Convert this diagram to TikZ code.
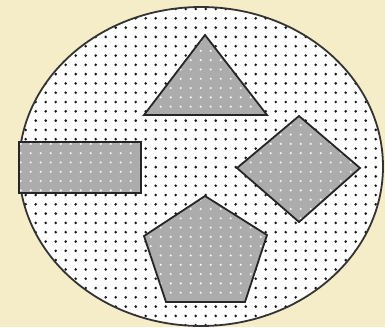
\documentclass[tikz,border=0pt]{standalone}
\definecolor{bgcream}{RGB}{245,237,200}
\definecolor{shapegray}{RGB}{172,172,172}
\definecolor{dotdark}{RGB}{25,25,25}
\tikzset{
  outline/.style={draw=black!85, line width=1.8pt, line join=miter},
  ringline/.style={draw=black!80, line width=1.8pt}
}
\newcommand\patshape[1]{%
  \fill[shapegray] #1;
  \begin{scope}
    \clip #1;
    \foreach \i in {0,...,38}{\foreach \j in {0,...,36}{%
      \fill[white, opacity=0.85] (10.7+10*\i, 4.35+9.3*\j) circle (1.2pt);}}
  \end{scope}
  \draw[outline] #1;}
\begin{document}
\begin{tikzpicture}[x=1pt,y=-1pt]
\fill[bgcream] (0,0) rectangle (385,327);
\useasboundingbox (0,0) rectangle (385,327);
\coordinate (c) at (201,166.5);
\fill[white] (c) ellipse [x radius=182pt, y radius=159.5pt];
\begin{scope}
  \clip (c) ellipse [x radius=182pt, y radius=159.5pt];
  \foreach \i in {0,...,38}{\foreach \j in {0,...,36}{%
    \fill[dotdark] (5.7+10*\i, 9+9.3*\j) circle (1.45pt);}}
\end{scope}
\draw[ringline] (c) ellipse [x radius=182pt, y radius=159.5pt];
% triangle
\patshape{(205,35) -- (267,115) -- (144,115) -- cycle}
% rectangle
\patshape{(19,142) rectangle (141,193)}
% diamond
\patshape{(299,116) -- (360,168) -- (299,222) -- (237,168) -- cycle}
% pentagon
\patshape{(205,196) -- (267,235) -- (245,302) -- (166,302) -- (144,236) -- cycle}
\end{tikzpicture}
\end{document}
